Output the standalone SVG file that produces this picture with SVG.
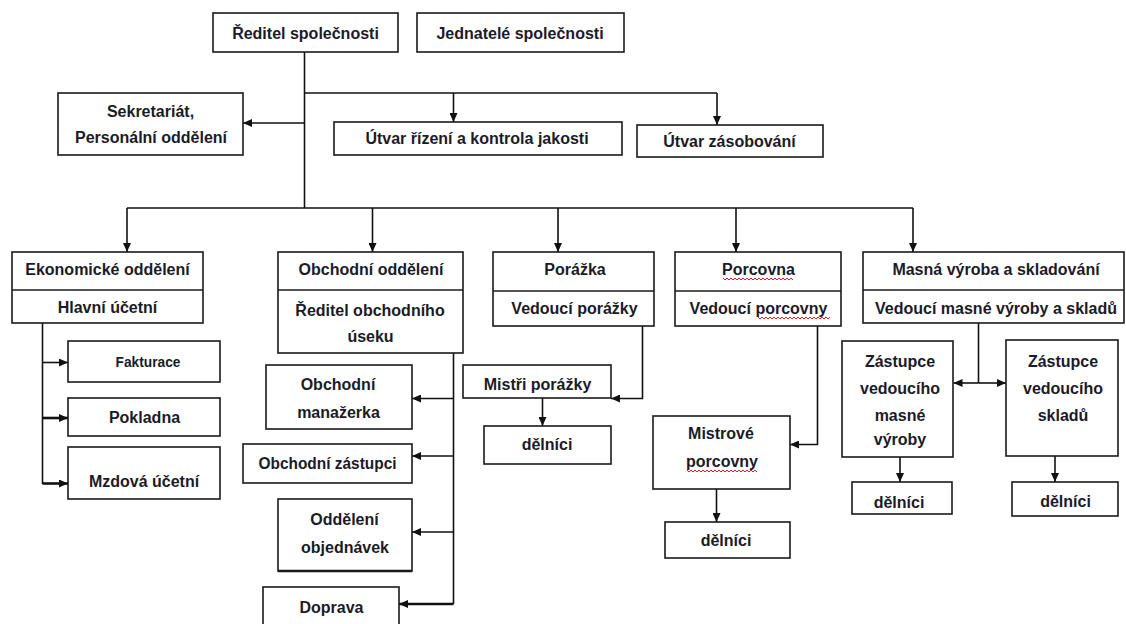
<svg xmlns="http://www.w3.org/2000/svg" width="1126" height="624" viewBox="0 0 1126 624">
<defs>
<style>
.box{fill:#fff;stroke:#1a1a1a;stroke-width:1.6}
.div{stroke:#1a1a1a;stroke-width:1.6;fill:none}
.t{font-family:"Liberation Sans",Arial,sans-serif;font-weight:bold;font-size:16px;fill:#1b1b28;text-anchor:middle}
.s{font-size:15px}
.ln{fill:none;stroke:#111;stroke-width:1.6}
.th{stroke-width:2.6}
.wave{fill:none;stroke:#e02020;stroke-width:1}
</style>
<marker id="ah" viewBox="0 0 9 8" refX="9" refY="4" markerWidth="9" markerHeight="8" markerUnits="userSpaceOnUse" orient="auto">
<path d="M0,0 L9,4 L0,8 z" fill="#111"/>
</marker>
</defs>
<rect width="1126" height="624" fill="#fff"/>

<g id="connectors">
<path class="ln" d="M304.5,52 V208"/>
<path class="ln" d="M304.5,93 H717"/>
<path class="ln" d="M453.5,93 V122" marker-end="url(#ah)"/>
<path class="ln" d="M717,93 V125" marker-end="url(#ah)"/>
<path class="ln" d="M304.5,123 H243" marker-end="url(#ah)"/>
<path class="ln" d="M127,208 H913"/>
<path class="ln" d="M127,208 V252" marker-end="url(#ah)"/>
<path class="ln" d="M372.5,208 V252" marker-end="url(#ah)"/>
<path class="ln" d="M558,208 V252" marker-end="url(#ah)"/>
<path class="ln" d="M736,208 V252" marker-end="url(#ah)"/>
<path class="ln" d="M913,208 V252" marker-end="url(#ah)"/>
<path class="ln" d="M42.5,323 V484"/>
<path class="ln" d="M42.5,362.5 H68" marker-end="url(#ah)"/>
<path class="ln th" d="M42.5,418 H68" marker-end="url(#ah)"/>
<path class="ln th" d="M42.5,483.5 H68" marker-end="url(#ah)"/>
<path class="ln" d="M453.5,353 V604"/>
<path class="ln" d="M453.5,398.5 H412" marker-end="url(#ah)"/>
<path class="ln" d="M453.5,456 H412" marker-end="url(#ah)"/>
<path class="ln" d="M453.5,532 H412" marker-end="url(#ah)"/>
<path class="ln th" d="M453.5,604 H399" marker-end="url(#ah)"/>
<path class="ln" d="M642.5,326 V398.5 H611" marker-end="url(#ah)"/>
<path class="ln" d="M542.5,398 V426" marker-end="url(#ah)"/>
<path class="ln" d="M817.5,326 V444.5 H790" marker-end="url(#ah)"/>
<path class="ln" d="M716.5,489 V522" marker-end="url(#ah)"/>
<path class="ln" d="M978.5,323 V383"/>
<path class="ln" d="M978.5,383 H953.5" marker-end="url(#ah)"/>
<path class="ln" d="M978.5,383 H1006" marker-end="url(#ah)"/>
<path class="ln" d="M900,457 V482" marker-end="url(#ah)"/>
<path class="ln" d="M1055,456 V482" marker-end="url(#ah)"/>
</g>

<g id="reditel"><rect class="box" x="213" y="13" width="185" height="39"/><text class="t" x="305.5" y="39">Ředitel společnosti</text></g>
<g id="jednatele"><rect class="box" x="417" y="13" width="207" height="39"/><text class="t" x="520" y="39">Jednatelé společnosti</text></g>
<g id="sekretariat"><rect class="box" x="58" y="93" width="185" height="62"/><text class="t" x="150.5" y="117">Sekretariát,</text><text class="t" x="151" y="143">Personální oddělení</text></g>
<g id="utvar-rizeni"><rect class="box" x="334" y="122" width="288" height="33"/><text class="t" x="477" y="144">Útvar řízení a kontrola jakosti</text></g>
<g id="utvar-zasobovani"><rect class="box" x="637" y="125" width="186" height="32"/><text class="t" x="729.5" y="147">Útvar zásobování</text></g>

<g id="ekonomicke"><rect class="box" x="12" y="252" width="191" height="71"/><path class="div" d="M12,290 H203"/><text class="t" x="107.5" y="275">Ekonomické oddělení</text><text class="t" x="107.5" y="313">Hlavní účetní</text></g>
<g id="fakturace"><rect class="box" x="68" y="341" width="152" height="41"/><text class="t s" x="148" y="367" textLength="65" lengthAdjust="spacingAndGlyphs">Fakturace</text></g>
<g id="pokladna"><rect class="box" x="68" y="398" width="152" height="38"/><text class="t" x="144.5" y="422.5">Pokladna</text></g>
<g id="mzdova"><rect class="box" x="68" y="447" width="152" height="52"/><text class="t" x="144" y="487">Mzdová účetní</text></g>

<g id="obchodni"><rect class="box" x="278" y="252" width="185" height="101"/><path class="div" d="M278,290 H463"/><text class="t" x="371" y="275">Obchodní oddělení</text><text class="t" x="370" y="316">Ředitel obchodního</text><text class="t" x="370.5" y="341.5">úseku</text></g>
<g id="manazerka"><rect class="box" x="266" y="365" width="146" height="64"/><text class="t" x="338" y="390">Obchodní</text><text class="t" x="338.5" y="417.5">manažerka</text></g>
<g id="zastupci"><rect class="box" x="243" y="444" width="169" height="39"/><text class="t" x="327.5" y="468.5" textLength="138" lengthAdjust="spacingAndGlyphs">Obchodní zástupci</text></g>
<g id="objednavky"><rect class="box" x="278" y="499" width="134" height="72"/><path class="div" d="M278,571 H412" style="stroke-width:2.6"/><text class="t" x="344.5" y="525">Oddělení</text><text class="t" x="345" y="552.5">objednávek</text></g>
<g id="doprava"><rect class="box" x="263" y="587" width="136" height="45"/><text class="t" x="331.5" y="612.5">Doprava</text></g>

<g id="porazka"><rect class="box" x="493" y="252" width="161" height="74"/><path class="div" d="M493,291 H654"/><text class="t" x="575" y="275">Porážka</text><text class="t" x="574.5" y="314">Vedoucí porážky</text></g>
<g id="mistri-porazky"><rect class="box" x="463" y="365" width="148" height="33"/><text class="t" x="537.5" y="389.5">Mistři porážky</text></g>
<g id="delnici-porazka"><rect class="box" x="484" y="426" width="127" height="38"/><text class="t" x="547" y="449.5">dělníci</text></g>

<g id="porcovna"><rect class="box" x="675" y="252" width="166" height="74"/><path class="div" d="M675,291 H841"/><text class="t" x="758.5" y="275">Porcovna</text><text class="t" x="758.5" y="314">Vedoucí porcovny</text>
<path class="wave" d="M723,278 l2,2 l2,-2 l2,2 l2,-2 l2,2 l2,-2 l2,2 l2,-2 l2,2 l2,-2 l2,2 l2,-2 l2,2 l2,-2 l2,2 l2,-2 l2,2 l2,-2 l2,2 l2,-2 l2,2 l2,-2 l2,2 l2,-2 l2,2 l2,-2 l2,2 l2,-2 l2,2 l2,-2 l2,2 l2,-2 l2,2 l2,-2 l2,2"/>
<path class="wave" d="M758,317 l2,2 l2,-2 l2,2 l2,-2 l2,2 l2,-2 l2,2 l2,-2 l2,2 l2,-2 l2,2 l2,-2 l2,2 l2,-2 l2,2 l2,-2 l2,2 l2,-2 l2,2 l2,-2 l2,2 l2,-2 l2,2 l2,-2 l2,2 l2,-2 l2,2 l2,-2 l2,2 l2,-2 l2,2 l2,-2 l2,2 l2,-2 l2,2 l2,-2"/>
</g>
<g id="mistrove-porcovny"><rect class="box" x="653" y="416" width="137" height="73"/><text class="t" x="721" y="438.5">Mistrové</text><text class="t" x="722" y="466.5">porcovny</text>
<path class="wave" d="M687,470 l2,2 l2,-2 l2,2 l2,-2 l2,2 l2,-2 l2,2 l2,-2 l2,2 l2,-2 l2,2 l2,-2 l2,2 l2,-2 l2,2 l2,-2 l2,2 l2,-2 l2,2 l2,-2 l2,2 l2,-2 l2,2 l2,-2 l2,2 l2,-2 l2,2 l2,-2 l2,2 l2,-2 l2,2 l2,-2 l2,2 l2,-2 l2,2"/>
</g>
<g id="delnici-porcovna"><rect class="box" x="665" y="522" width="125" height="36"/><text class="t" x="726" y="545.5">dělníci</text></g>

<g id="masna"><rect class="box" x="863" y="252" width="261" height="71"/><path class="div" d="M863,290 H1124"/><text class="t" x="996" y="275">Masná výroba a skladování</text><text class="t" x="996" y="313.5">Vedoucí masné výroby a skladů</text></g>
<g id="zastupce-vyroby"><rect class="box" x="842" y="341" width="111" height="116"/><text class="t" x="900" y="366.5">Zástupce</text><text class="t" x="900" y="394">vedoucího</text><text class="t" x="900" y="420.5">masné</text><text class="t" x="900" y="445">výroby</text></g>
<g id="zastupce-skladu"><rect class="box" x="1006" y="340" width="112" height="116"/><text class="t" x="1063" y="366.5">Zástupce</text><text class="t" x="1063" y="394">vedoucího</text><text class="t" x="1063" y="420.5">skladů</text></g>
<g id="delnici-vyroba"><rect class="box" x="852" y="482" width="100" height="32"/><text class="t" x="899" y="508">dělníci</text></g>
<g id="delnici-sklad"><rect class="box" x="1012" y="482" width="106" height="34"/><text class="t" x="1065.5" y="506.5">dělníci</text></g>
</svg>
